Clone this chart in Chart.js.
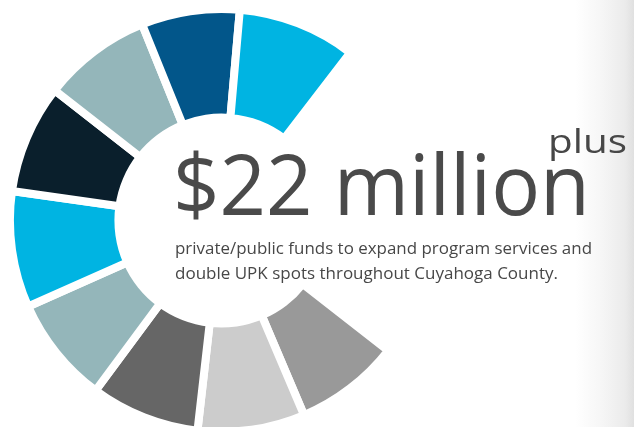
<!DOCTYPE html>
<html>
<head>
<meta charset="utf-8">
<script src="https://cdn.jsdelivr.net/npm/chart.js@4/dist/chart.umd.min.js"></script>
<style>
  html, body { margin:0; padding:0; width:634px; height:427px; overflow:hidden; background:#ffffff; }
  #shade { position:absolute; left:575px; top:0; width:59px; height:427px;
    background: linear-gradient(to right, rgba(255,255,255,0) 0%, #f6f6f6 45%, #ebebeb 85%, #e0e0e0 100%); }
  #wrap { position:absolute; left:-11.1px; top:4.7px; width:420px; height:431px; }
  #txt { position:absolute; left:0; top:0; }
</style>
</head>
<body>
<div id="shade"></div>
<div id="wrap"><canvas id="c" width="420" height="431"></canvas></div>
<svg id="txt" width="634" height="427" xmlns="http://www.w3.org/2000/svg">
  <text x="548" y="153" font-family="Open Sans" font-size="32" fill="#474747" textLength="79" lengthAdjust="spacingAndGlyphs">plus</text>
  <text x="173" y="215" font-family="Open Sans" font-size="85" fill="#4a4a4a" textLength="417" lengthAdjust="spacingAndGlyphs">$22 million</text>
  <text x="175" y="254" font-family="Open Sans" font-size="15.5" fill="#474747" textLength="417" lengthAdjust="spacingAndGlyphs">private/public funds to expand program services and</text>
  <text x="175" y="279" font-family="Open Sans" font-size="15.5" fill="#474747" textLength="383" lengthAdjust="spacingAndGlyphs">double UPK spots throughout Cuyahoga County.</text>
</svg>
<script>
// Segments in clockwise order, starting at the lower right (medium gray)
const categories = ['Segment 1','Segment 2','Segment 3','Segment 4','Segment 5','Segment 6','Segment 7','Segment 8','Segment 9'];
const segmentSizes = [29, 29.5, 30, 29.5, 32, 30, 30, 27, 32.5]; // angular size of each segment, degrees
const segmentColors = ['#999999','#cccccc','#666666','#94b6ba','#00b4e2','#0a1f2c','#94b6ba','#02568a','#00b4e2'];

const total = segmentSizes.reduce((a,b)=>a+b,0);

new Chart(document.getElementById('c'), {
  type: 'doughnut',
  data: {
    labels: categories,
    datasets: [{
      data: segmentSizes,
      backgroundColor: segmentColors,
      borderColor: '#ffffff',
      borderWidth: 8,
      hoverBorderWidth: 8,
      borderJoinStyle: 'miter',
      hoverOffset: 0
    }]
  },
  options: {
    responsive: false,
    animation: false,
    rotation: 128,
    circumference: total,
    cutout: '48.7%',
    layout: { padding: 0 },
    plugins: { legend: { display: false }, tooltip: { enabled: false } }
  }
});
</script>
</body>
</html>
